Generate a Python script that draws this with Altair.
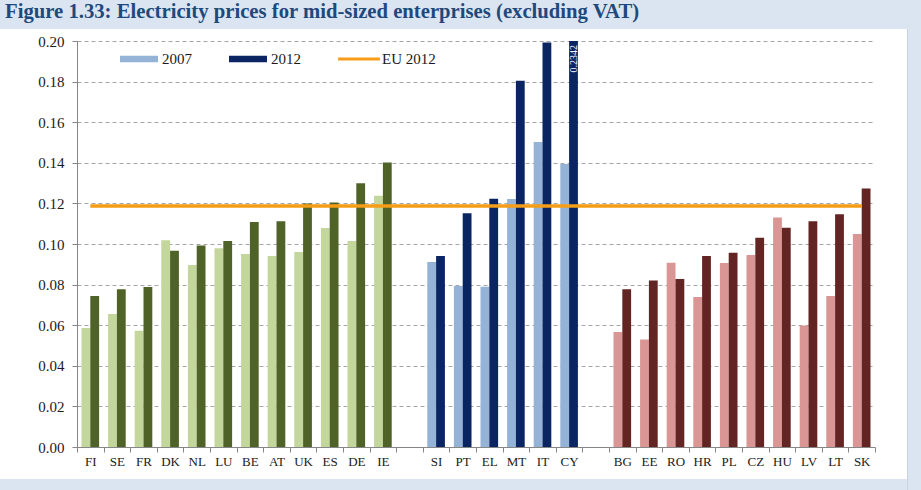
import altair as alt
import pandas as pd

# ---- data ----
west = ["FI", "SE", "FR", "DK", "NL", "LU", "BE", "AT", "UK", "ES", "DE", "IE"]
west_2007 = [0.0586, 0.0655, 0.0573, 0.1018, 0.0897, 0.0979, 0.0951, 0.0941, 0.0961, 0.1079, 0.1015, 0.1238]
west_2012 = [0.0744, 0.0777, 0.0788, 0.0967, 0.0993, 0.1015, 0.1108, 0.1112, 0.1199, 0.1205, 0.1299, 0.1401]

south = ["SI", "PT", "EL", "MT", "IT", "CY"]
south_2007 = [0.0911, 0.0793, 0.0790, 0.1222, 0.1502, 0.1394]
south_2012 = [0.0941, 0.1151, 0.1223, 0.1804, 0.1992, 0.2342]

east = ["BG", "EE", "RO", "HR", "PL", "CZ", "HU", "LV", "LT", "SK"]
east_2007 = [0.0567, 0.0529, 0.0908, 0.0739, 0.0906, 0.0946, 0.1130, 0.0598, 0.0744, 0.1049]
east_2012 = [0.0777, 0.0820, 0.0828, 0.0941, 0.0957, 0.1031, 0.1080, 0.1112, 0.1146, 0.1273]

eu_2012 = 0.1187
gaps = [" ", "  "]
years = ["2007", "2012"]
y_ticks = [0.00, 0.02, 0.04, 0.06, 0.08, 0.10, 0.12, 0.14, 0.16, 0.18, 0.20]
legend_items = ["2007", "2012", "EU 2012"]
title_text = "Figure 1.33: Electricity prices for mid-sized enterprises (excluding VAT)"

slots = west + [gaps[0]] + south + [gaps[1]] + east

group_keys = ["w2007", "w2012", "s2007", "s2012", "e2007", "e2012"]
group_colors = ["#c3d69b", "#4f6228", "#95b3d7", "#0b2462", "#d99694", "#632523"]
legend_colors = ["#95b3d7", "#0b2462", "#f59d16"]
legend_shapes = ["M-1,-0.17H1V0.17H-1Z", "M-1,-0.17H1V0.17H-1Z", "M-1.1,-0.08H1.1V0.08H-1.1Z"]

rows = []
for g, names, a, b in [("w", west, west_2007, west_2012),
                       ("s", south, south_2007, south_2012),
                       ("e", east, east_2007, east_2012)]:
    for n, v7, v12 in zip(names, a, b):
        rows.append({"country": n, "year": "2007", "value": v7, "key": g + "2007"})
        rows.append({"country": n, "year": "2012", "value": v12, "key": g + "2012"})
bars_df = pd.DataFrame(rows)

line_df = pd.DataFrame({"country": slots, "value": [eu_2012] * len(slots)})
label_df = bars_df[(bars_df["country"] == "CY") & (bars_df["year"] == "2012")]
legend_df = pd.DataFrame({"series": legend_items})

FONT = "Liberation Serif"
BAND = "#dbe5f1"

x_enc = alt.X(
    "country:N",
    sort=slots,
    scale=alt.Scale(domain=slots, paddingInner=0, paddingOuter=0),
    axis=alt.Axis(
        title=None, labelAngle=0, tickBand="extent", labelFont=FONT, labelFontSize=13,
        labelColor="#1a1a1a", domainColor="#868686", tickColor="#868686", tickSize=5,
        labelPadding=3, grid=False,
    ),
)
y_scale = alt.Scale(domain=[0, 0.2], clamp=True, nice=False)
y_enc = alt.Y(
    "value:Q",
    scale=y_scale,
    axis=alt.Axis(
        title=None, values=y_ticks, format=".2f", grid=True, gridDash=[4, 3],
        gridColor="#a6a6a6", domainColor="#868686", tickColor="#868686", tickSize=5,
        labelFont=FONT, labelFontSize=15, labelColor="#1a1a1a", labelPadding=8, zindex=0,
    ),
)
xoff = alt.XOffset("year:N", scale=alt.Scale(domain=years, paddingInner=0, paddingOuter=0.51))

one = pd.DataFrame({"a": [0]})
band_top = alt.Chart(one).mark_rect(color=BAND).encode(
    x=alt.value(-77), x2=alt.value(844), y=alt.value(-41), y2=alt.value(-12)
)
band_bottom = alt.Chart(one).mark_rect(color=BAND).encode(
    x=alt.value(-77), x2=alt.value(844), y=alt.value(438), y2=alt.value(449)
)
band_right = alt.Chart(one).mark_rect(color=BAND).encode(
    x=alt.value(830), x2=alt.value(844), y=alt.value(-41), y2=alt.value(449)
)
edge_right = alt.Chart(one).mark_rule(color="#c9d3df", strokeWidth=1).encode(
    x=alt.value(830.5), y=alt.value(-12), y2=alt.value(449)
)

bars = alt.Chart(bars_df).mark_bar(opacity=1, fillOpacity=1).encode(
    x=x_enc,
    xOffset=xoff,
    y=y_enc,
    fill=alt.Fill("key:N", scale=alt.Scale(domain=group_keys, range=group_colors), legend=None),
)

line = alt.Chart(line_df).mark_line(color="#f59d16", strokeWidth=3.5).encode(
    x=alt.X("country:N", sort=slots),
    y=alt.Y("value:Q", scale=y_scale),
)

label = alt.Chart(label_df).mark_text(
    angle=270, align="right", baseline="middle", dx=-4, font=FONT, fontSize=10, color="white"
).encode(
    x=alt.X("country:N", sort=slots),
    xOffset=alt.XOffset("year:N"),
    y=alt.Y("value:Q", scale=y_scale),
    text=alt.Text("value:Q", format=".4f"),
)

leg = dict(title=None, orient="none", legendX=43, legendY=-1,
           direction="horizontal", columns=3, symbolSize=1444,
           labelFont=FONT, labelFontSize=15, labelColor="#1a1a1a",
           labelOffset=4, columnPadding=37, padding=0, symbolStrokeWidth=0)

legend_layer = alt.Chart(legend_df).mark_point(filled=True, size=1444, opacity=1).encode(
    color=alt.Color("series:N", scale=alt.Scale(domain=legend_items, range=legend_colors),
                    legend=alt.Legend(**leg)),
    shape=alt.Shape("series:N", scale=alt.Scale(domain=legend_items, range=legend_shapes),
                    legend=alt.Legend(**leg)),
    x=alt.X("country:N", sort=slots),
    y=alt.Y("value:Q", scale=y_scale),
).transform_calculate(country="' '", value="0").transform_filter("false")

chart = alt.layer(band_top, band_bottom, band_right, edge_right, bars, line, label, legend_layer).properties(
    width=798,
    height=406,
    autosize="none",
    padding={"left": 77, "top": 41, "right": 46, "bottom": 43},
    background="white",
    title=alt.Title(title_text, orient="none", anchor="start", align="left", font=FONT,
                    fontSize=20.7, fontWeight="bold", color="#1f497d", baseline="alphabetic",
                    dx=-72, dy=-23, zindex=2),
).configure_view(stroke=None)

chart.save("out.html", embed_options={"renderer": "svg", "actions": False})
